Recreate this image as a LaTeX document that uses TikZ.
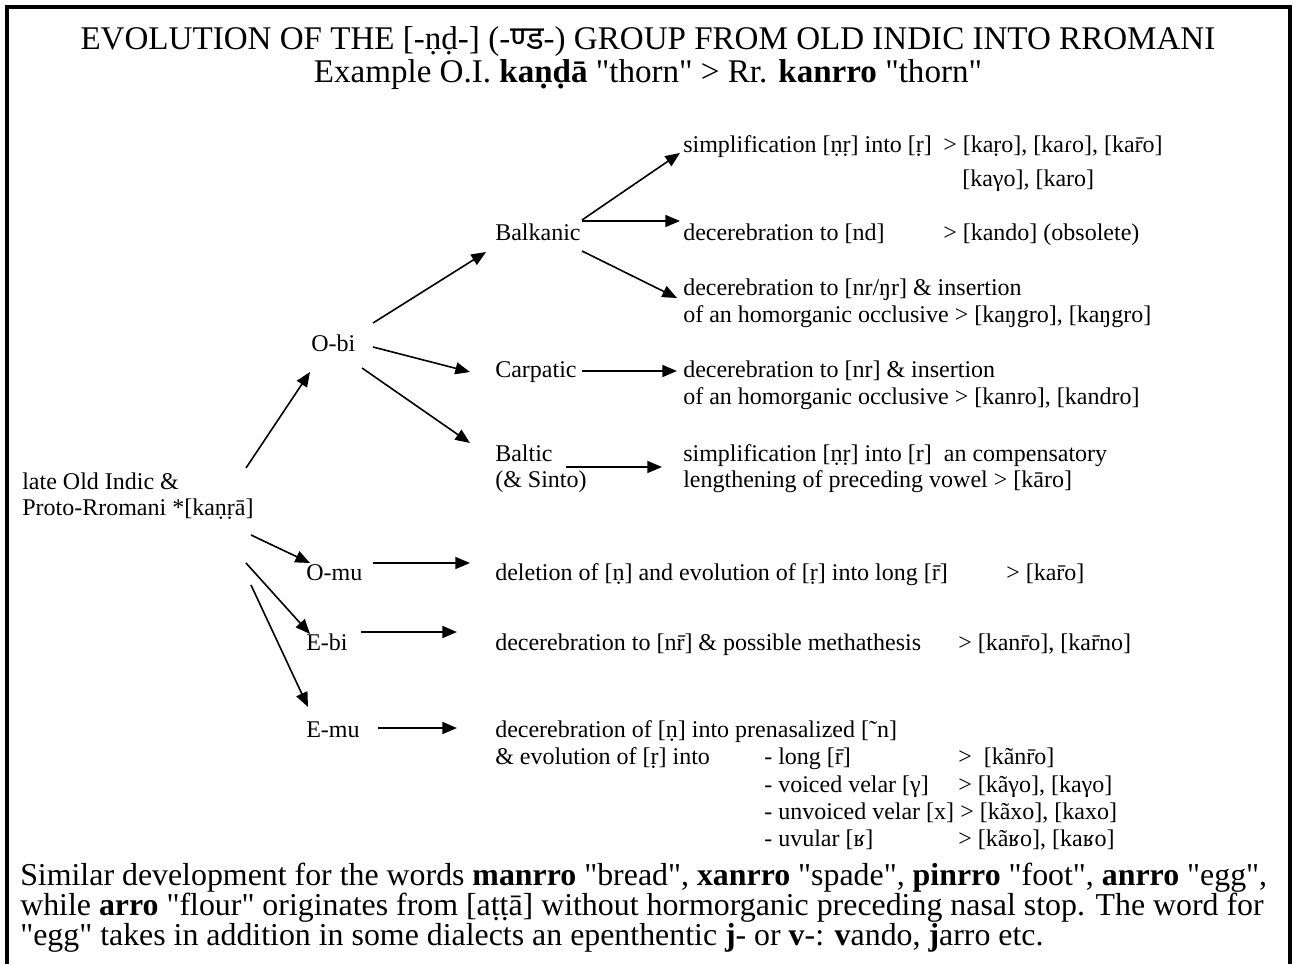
\documentclass[tikz,border=0pt]{standalone}
\usepackage{fontspec}
\setmainfont{Liberation Serif}
% a second serif family without TeX ligatures keeps straight quotes
\newfontfamily\rrfont{Liberation Serif}
\newfontfamily\deva[Script=Devanagari]{Noto Sans}
\usetikzlibrary{arrows.meta}
\begin{document}
\begin{tikzpicture}[x=0.75pt,y=-0.75pt,
  lbl/.style={anchor=base west, inner sep=0pt, font=\rrfont\fontsize{18pt}{22pt}\selectfont},
  ttl/.style={anchor=base, inner sep=0pt, font=\rrfont\fontsize{24.8pt}{30pt}\selectfont},
  para/.style={anchor=base west, inner sep=0pt, font=\rrfont\fontsize{23.9pt}{28pt}\selectfont},
  arr/.style={line width=1.2pt, -{Triangle[length=11pt,width=9pt]}},
  frame/.style={line width=2.7pt}]
\useasboundingbox (0,0) rectangle (1295,964);
% open frame
\draw[frame] (7,964) -- (7,7) -- (1290,7) -- (1290,964);

% title
\node[ttl] (t1) at (648,49) {EVOLUTION OF THE [-ṇḍ-] (-{\deva ण्ड}-) GROUP FROM OLD INDIC INTO RROMANI};
\node[ttl] (t2) at (648,82) {Example O.I. \textbf{kaṇḍā} "thorn" > Rr. \textbf{kanrro} "thorn"};

% root and branch labels
\node[lbl] (late1) at (22,489) {late Old Indic \&};
\node[lbl] (late2) at (22,515) {Proto-Rromani *[kaṇṛā]};
\node[lbl] (obi) at (311,351) {O-bi};
\node[lbl] (omu) at (306,580) {O-mu};
\node[lbl] (ebi) at (306,650) {E-bi};
\node[lbl] (emu) at (306,737) {E-mu};
\node[lbl] (balk) at (495,240) {Balkanic};
\node[lbl] (carp) at (495,377) {Carpatic};
\node[lbl] (balt1) at (495,461) {Baltic};
\node[lbl] (balt2) at (495,487) {(\& Sinto)};

% outcomes of the O-bi dialects
\node[lbl] (simp1) at (683,152) {simplification [ṇṛ] into [ṛ]};
\node[lbl] (simp1r) at (943,152) {> [kaṛo], [kaɾo], [kar̄o]};
\node[lbl] (simp2) at (962,186) {[kaγo], [karo]};
\node[lbl] (nd) at (683,240) {decerebration to [nd]};
\node[lbl] (ndr) at (943,240) {> [kando] (obsolete)};
\node[lbl] (ng1) at (683,295) {decerebration to [nr/ŋr] \& insertion};
\node[lbl] (ng2) at (683,322) {of an homorganic occlusive > [kaŋgro], [kaŋgro]};
\node[lbl] (cp1) at (683,377) {decerebration to [nr] \& insertion};
\node[lbl] (cp2) at (683,404) {of an homorganic occlusive > [kanro], [kandro]};
\node[lbl] (bl1) at (683,461) {simplification [ṇṛ] into [r]\ \ an compensatory};
\node[lbl] (bl2) at (683,487) {lengthening of preceding vowel > [kāro]};

% outcomes of the other groups
\node[lbl] (del) at (495,580) {deletion of [ṇ] and evolution of [ṛ] into long [r̄]};
\node[lbl] (delr) at (1006,580) {> [kar̄o]};
\node[lbl] (ebt) at (495,650) {decerebration to [nr̄] \& possible methathesis};
\node[lbl] (ebtr) at (958,650) {> [kanr̄o], [kar̄no]};
\node[lbl] (em1) at (495,737) {decerebration of [ṇ] into prenasalized [˜n]};
\node[lbl] (em2) at (495,764) {\& evolution of [ṛ] into};
\node[lbl] (emc1) at (764,764) {- long [r̄]};
\node[lbl] (emr1) at (958,764) {>\ \ [kãnr̄o]};
\node[lbl] (emc2) at (764,792) {- voiced velar [γ]};
\node[lbl] (emr2) at (958,792) {> [kãγo], [kaγo]};
\node[lbl] (emc3) at (764,819) {- unvoiced velar [x]};
\node[lbl] (emr3) at (960,819) {> [kãxo], [kaxo]};
\node[lbl] (emc4) at (764,846) {- uvular [ʁ]};
\node[lbl] (emr4) at (958,846) {> [kãʁo], [kaʁo]};

% closing remark
\node[para] (b1) at (20,885) {Similar development for the words \textbf{manrro} "bread", \textbf{xanrro} "spade", \textbf{pinrro} "foot", \textbf{anrro} "egg",};
\node[para] (b2) at (20,915) {while \textbf{arro} "flour" originates from [aṭṭā] without hormorganic preceding nasal stop. The word for};
\node[para] (b3) at (20,945) {"egg" takes in addition in some dialects an epenthentic \textbf{j}- or \textbf{v}-: \textbf{v}ando, \textbf{j}arro etc.};

% connectors
\draw[arr] ([shift={(87,-20)}]balk.base west) -- ([shift={(-3,1)}]simp1.base west);
\draw[arr] ([shift={(87,-19)}]balk.base west) -- ([shift={(-3,-19)}]nd.base west);
\draw[arr] ([shift={(87,11)}]balk.base west) -- ([shift={(-6,3)}]ng1.base west);
\draw[arr] ([shift={(62,-28)}]obi.base west) -- ([shift={(-9,12)}]balk.base west);
\draw[arr] ([shift={(62,-4)}]obi.base west) -- ([shift={(-25,-5)}]carp.base west);
\draw[arr] ([shift={(51,17)}]obi.base west) -- ([shift={(-25,-18)}]balt1.base west);
\draw[arr] ([shift={(87,-6)}]carp.base west) -- ([shift={(-6,-6)}]cp1.base west);
\draw[arr] ([shift={(71,6)}]balt1.base west) -- ([shift={(-21,6)}]bl1.base west);
\draw[arr] ([shift={(224,-21)}]late1.base west) -- ([shift={(-1,21)}]obi.base west);
\draw[arr] ([shift={(229,20)}]late2.base west) -- ([shift={(4,-17)}]omu.base west);
\draw[arr] ([shift={(224,48)}]late2.base west) -- ([shift={(4,-16)}]ebi.base west);
\draw[arr] ([shift={(229,70)}]late2.base west) -- ([shift={(2,-30)}]emu.base west);
\draw[arr] ([shift={(67,-17)}]omu.base west) -- ([shift={(-25,-17)}]del.base west);
\draw[arr] ([shift={(55,-18)}]ebi.base west) -- ([shift={(-38,-18)}]ebt.base west);
\draw[arr] ([shift={(72,-9)}]emu.base west) -- ([shift={(-38,-9)}]em1.base west);
\end{tikzpicture}
\end{document}
